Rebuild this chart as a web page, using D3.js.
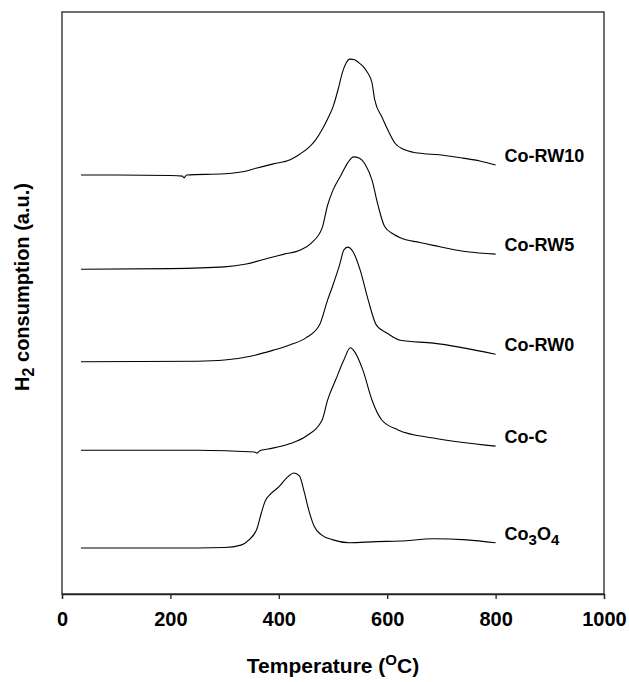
<!DOCTYPE html>
<html>
<head>
<meta charset="utf-8">
<script src="https://cdn.jsdelivr.net/npm/d3@7"></script>
<style>
  html, body { margin: 0; padding: 0; background: #fff; }
  svg { display: block; font-family: "Liberation Sans", Arial, sans-serif; }
</style>
</head>
<body>
<svg id="chart" width="629" height="682"></svg>
<script>
// TPR profiles: [temperature °C, H2 consumption a.u.] (curves are vertically offset)
const coRW10 = [
  [35, 72.0], [100, 72.0], [200, 71.9], [222, 71.8], [225, 71.5], [230, 72.0], [300, 72.2],
  [330, 72.5], [360, 73.2], [390, 73.9], [421, 74.6], [439, 75.6], [455, 76.7], [467, 77.9],
  [480, 79.8], [490, 81.6], [500, 83.7], [510, 86.9], [517, 89.5], [524, 91.2], [531, 91.9],
  [540, 91.8], [546, 91.4], [555, 90.7], [563, 89.7], [572, 87.8], [577, 84.9], [590, 82.0],
  [603, 79.4], [614, 77.5], [630, 76.4], [648, 75.9], [675, 75.6], [703, 75.4], [740, 74.9],
  [771, 74.4], [800, 73.7]
];
const coRW5 = [
  [35, 55.8], [200, 55.9], [300, 56.2], [340, 56.7], [380, 57.7], [410, 58.4], [440, 59.1],
  [460, 60.3], [480, 62.9], [490, 66.8], [500, 69.4], [515, 72.0], [528, 74.2], [538, 75.1],
  [548, 74.9], [560, 73.7], [572, 71.1], [583, 66.8], [595, 63.2], [612, 61.8], [624, 61.2],
  [660, 60.4], [685, 59.9], [747, 58.8], [800, 58.4]
];
const coRW0 = [
  [35, 39.9], [250, 40.0], [300, 40.2], [350, 40.9], [390, 41.9], [420, 42.8], [450, 44.0],
  [475, 46.2], [490, 50.5], [500, 53.1], [512, 56.5], [520, 59.1], [527, 59.6], [537, 58.8],
  [550, 55.7], [565, 50.5], [580, 46.2], [600, 44.8], [624, 43.6], [685, 43.1], [800, 41.2]
];
const coC = [
  [35, 24.7], [250, 24.7], [355, 24.4], [360, 24.2], [365, 24.6], [380, 24.9], [420, 25.8],
  [450, 27.1], [480, 29.9], [490, 33.3], [505, 36.8], [520, 40.2], [532, 42.3], [540, 41.6],
  [555, 38.5], [572, 33.3], [590, 29.9], [620, 28.2], [685, 26.8], [800, 25.4]
];
const co3o4 = [
  [35, 7.9], [200, 7.9], [300, 8.0], [330, 8.4], [345, 9.3], [360, 11.3], [368, 14.0],
  [375, 16.0], [385, 17.2], [400, 18.4], [415, 20.0], [428, 20.8], [438, 20.3], [447, 17.5],
  [455, 14.5], [465, 11.7], [478, 10.2], [500, 9.3], [530, 8.8], [580, 9.0], [624, 9.1],
  [685, 9.5], [747, 9.3], [800, 8.8]
];

const seriesList = [
  { name: 'Co-RW10', values: coRW10 },
  { name: 'Co-RW5', values: coRW5 },
  { name: 'Co-RW0', values: coRW0 },
  { name: 'Co-C', values: coC },
  { name: 'Co3O4', values: co3o4, sub: true }
];
const xTicks = [0, 200, 400, 600, 800, 1000];

const svg = d3.select('#chart');
const margin = { top: 12, right: 25, bottom: 88, left: 62 };
const width = 629 - margin.left - margin.right;
const height = 682 - margin.top - margin.bottom;

const x = d3.scaleLinear().domain([0, 1000]).range([0, width]);
const y = d3.scaleLinear().domain([0, 100]).range([height, 0]);

const g = svg.append('g').attr('transform', `translate(${margin.left},${margin.top})`);

// frame
g.append('rect')
  .attr('x', 0).attr('y', 0)
  .attr('width', width).attr('height', height)
  .attr('fill', 'none')
  .attr('stroke', '#222')
  .attr('stroke-width', 1.3);

// x axis
const xAxis = g.append('g')
  .attr('transform', `translate(0,${height})`)
  .call(d3.axisBottom(x).tickValues(xTicks).tickSize(5).tickPadding(13).tickFormat(d3.format('d')));
xAxis.select('.domain').attr('stroke', '#222').attr('stroke-width', 1.3);
xAxis.selectAll('.tick line').attr('stroke', '#222').attr('stroke-width', 1.3);
xAxis.selectAll('.tick text')
  .attr('fill', '#000')
  .style('font-size', '20px')
  .style('font-weight', 'bold');

// curves
const line = d3.line()
  .x(d => x(d[0]))
  .y(d => y(d[1]))
  .curve(d3.curveMonotoneX);

seriesList.forEach(s => {
  g.append('path')
    .datum(s.values)
    .attr('fill', 'none')
    .attr('stroke', '#000')
    .attr('stroke-width', 1.1)
    .attr('d', line);

  const last = s.values[s.values.length - 1];
  const label = g.append('text')
    .attr('x', x(last[0]) + 9)
    .attr('y', y(last[1]) - 3)
    .style('font-size', '18px')
    .style('font-weight', 'bold');
  if (s.sub) {
    label.append('tspan').text('Co');
    label.append('tspan').attr('dy', 5).style('font-size', '15px').text('3');
    label.append('tspan').attr('dy', -5).text('O');
    label.append('tspan').attr('dy', 5).style('font-size', '15px').text('4');
  } else {
    label.text(s.name);
  }
});

// axis titles
const xTitle = svg.append('text')
  .attr('x', margin.left + width / 2)
  .attr('y', 673)
  .attr('text-anchor', 'middle')
  .style('font-size', '21px')
  .style('font-weight', 'bold');
xTitle.append('tspan').text('Temperature (');
xTitle.append('tspan').attr('dy', -8).style('font-size', '15px').text('O');
xTitle.append('tspan').attr('dy', 8).text('C)');

const yTitle = svg.append('text')
  .attr('transform', 'translate(29,287) rotate(-90)')
  .attr('text-anchor', 'middle')
  .style('font-size', '20px')
  .style('font-weight', 'bold');
yTitle.append('tspan').text('H');
yTitle.append('tspan').attr('dy', 5).style('font-size', '16px').text('2');
yTitle.append('tspan').attr('dy', -5).text(' consumption (a.u.)');
</script>
</body>
</html>
